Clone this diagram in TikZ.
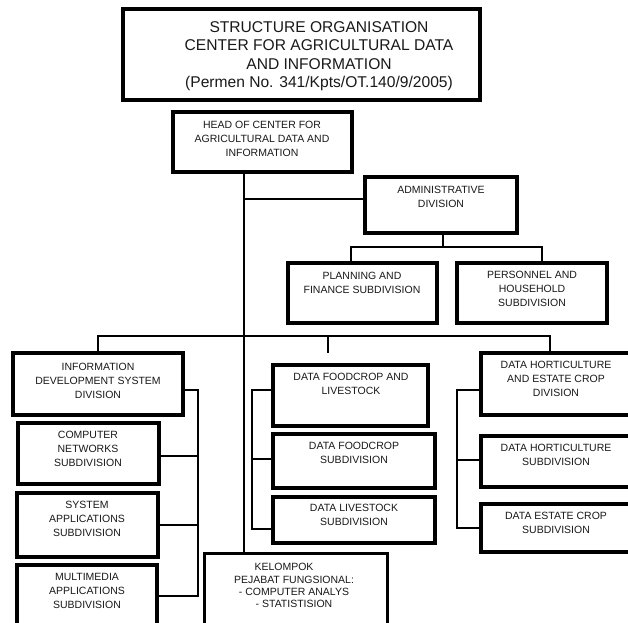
\documentclass[tikz,border=0pt]{standalone}
\usepackage{fontspec}
\setmainfont{Liberation Sans}
\usetikzlibrary{fit}
\tikzset{
  box/.style={draw=black, line width=3.6pt, inner sep=0pt, fill=white},
  lbl/.style={inner sep=0pt, align=center, anchor=north, text=black!90,
    font=\fontsize{10.5}{14}\selectfont},
  ttl/.style={inner sep=0pt, align=center, anchor=north, text=black!90,
    font=\fontsize{15.6}{18.5}\selectfont},
  wire/.style={draw=black, line width=1.5pt},
}
\begin{document}
\begin{tikzpicture}[x=1pt,y=-1pt]
\useasboundingbox (0,0) rectangle (628,622);
\clip (0,0) rectangle (628,622);
\fill[white] (0,0) rectangle (628,622);

% helper coordinates for connectors
\coordinate (T) at (244,0);
\coordinate (admY) at (0,199);
\coordinate (abus) at (0,247);
\coordinate (pl) at (351,0);
\coordinate (pe) at (542,0);
\coordinate (adx) at (443,0);
\coordinate (bus) at (0,336);
\coordinate (c1) at (98,0);
\coordinate (c2) at (328,0);
\coordinate (c3) at (550,0);
\coordinate (c2end) at (328,353);
\coordinate (lx) at (198,0);
\coordinate (mx) at (252,0);
\coordinate (rx) at (457,0);

% connectors (drawn first)
\draw[wire] (T |- 0,172) -- (T |- 0,553);
\draw[wire] (T |- admY) -- (365,199);
\draw[wire] (adx |- 0,233) -- (adx |- abus);
\draw[wire] (pl |- 0,263) -- (pl |- abus) -- (pe |- abus) -- (pe |- 0,263);
\draw[wire] (c1 |- 0,353) -- (c1 |- bus) -- (c3 |- bus) -- (c3 |- 0,353);
\draw[wire] (c2 |- bus) -- (c2end);
\draw[wire] (183,390) -- (lx |- 0,390) -- (lx |- 0,596) -- (157,596);
\draw[wire] (159,456) -- (lx |- 0,456);
\draw[wire] (158,525) -- (lx |- 0,525);
\draw[wire] (273,390) -- (mx |- 0,390) -- (mx |- 0,529) -- (273,529);
\draw[wire] (273,459) -- (mx |- 0,459);
\draw[wire] (481,390) -- (rx |- 0,390) -- (rx |- 0,528) -- (481,528);
\draw[wire] (481,460) -- (rx |- 0,460);

% boxes
\node[box, line width=4pt, fit={(123,9) (480,100)}] (title) {};
\node[box, fit={(173,112) (352,172)}] (head) {};
\node[box, fit={(365,177) (517,233)}] (admin) {};
\node[box, fit={(288,263) (437,323)}] (plan) {};
\node[box, fit={(457,263) (607,323)}] (pers) {};
\node[box, fit={(13,353) (183,415)}] (info) {};
\node[box, fit={(18,423) (159,484)}] (cnet) {};
\node[box, fit={(17,493) (158,557)}] (sapp) {};
\node[box, fit={(17,565) (157,650)}] (mapp) {};
\node[box, line width=3pt, fit={(204,553) (387,650)}] (kel) {};
\node[box, fit={(273,365) (428,426)}] (dfl) {};
\node[box, fit={(273,434) (435,488)}] (dfs) {};
\node[box, fit={(273,497) (435,543)}] (dls) {};
\node[box, fit={(481,353) (640,415)}] (dhe) {};
\node[box, fit={(481,436) (640,487)}] (dhs) {};
\node[box, fit={(481,504) (640,552)}] (dec) {};

% labels
\node[ttl] (titleT) at (319,21.4) {STRUCTURE ORGANISATION\\CENTER FOR AGRICULTURAL DATA\\AND INFORMATION\hspace*{50pt}\\(Permen No. 341/Kpts/OT.140/9/2005)};
\node[lbl] (headT) at (262,121.2) {HEAD OF CENTER FOR\\AGRICULTURAL DATA AND\\INFORMATION};
\node[lbl] (adminT) at (441,186.2) {ADMINISTRATIVE\\DIVISION};
\node[lbl] (planT) at (362,272.2) {PLANNING AND\\FINANCE SUBDIVISION};
\node[lbl] (persT) at (532,271.2) {PERSONNEL AND\\HOUSEHOLD\\SUBDIVISION};
\node[lbl] (infoT) at (98,363.2) {INFORMATION\\DEVELOPMENT SYSTEM\\DIVISION};
\node[lbl] (cnetT) at (88,431.2) {COMPUTER\\NETWORKS\\SUBDIVISION};
\node[lbl] (sappT) at (87,501.2) {SYSTEM\\APPLICATIONS\\SUBDIVISION};
\node[lbl] (mappT) at (87,573.2) {MULTIMEDIA\\APPLICATIONS\\SUBDIVISION};
\node[lbl, font=\fontsize{10.5}{12.4}\selectfont] (kelT) at (294,563.2) {KELOMPOK\hspace*{20pt}\\PEJABAT FUNGSIONAL:\\- COMPUTER ANALYS\\- STATISTISION};
\node[lbl] (dflT) at (351,373.2) {DATA FOODCROP AND\\LIVESTOCK};
\node[lbl] (dfsT) at (354,442.2) {DATA FOODCROP\\SUBDIVISION};
\node[lbl] (dlsT) at (354,504.2) {DATA LIVESTOCK\\SUBDIVISION};
\node[lbl] (dheT) at (556,361.2) {DATA HORTICULTURE\\AND ESTATE CROP\\DIVISION};
\node[lbl] (dhsT) at (556,444.2) {DATA HORTICULTURE\\SUBDIVISION};
\node[lbl] (decT) at (556,512.2) {DATA ESTATE CROP\\SUBDIVISION};
\end{tikzpicture}
\end{document}
